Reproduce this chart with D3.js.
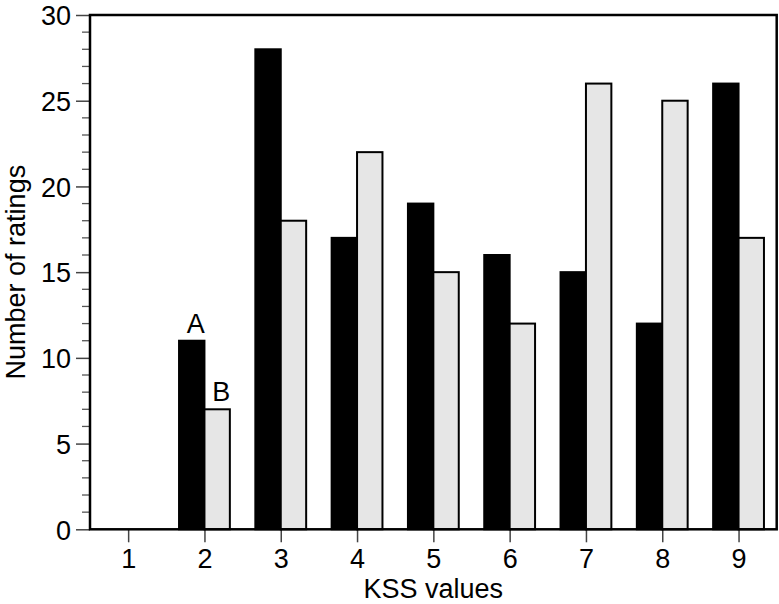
<!DOCTYPE html>
<html>
<head>
<meta charset="utf-8">
<script src="https://cdn.jsdelivr.net/npm/d3@7"></script>
<style>
  html, body { margin: 0; padding: 0; background: #fff; }
  svg { display: block; }
  text { font-family: "Liberation Sans", Arial, Helvetica, sans-serif; fill: #000; }
</style>
</head>
<body>
<script>
const categories = [1, 2, 3, 4, 5, 6, 7, 8, 9];
const seriesA = [0, 11, 28, 17, 19, 16, 15, 12, 26];
const seriesB = [0, 7, 18, 22, 15, 12, 26, 25, 17];
const yTicks = [0, 5, 10, 15, 20, 25, 30];
const yMinorTicks = d3.range(0, 31, 1);
const xLabel = "KSS values";
const yLabel = "Number of ratings";
const annotations = [{ series: "A", cat: 2 }, { series: "B", cat: 2 }];

const W = 779, H = 604;
const margin = { left: 90, top: 15, right: 2.3, bottom: 74.7 };
const iw = W - margin.left - margin.right;
const ih = H - margin.top - margin.bottom;

const svg = d3.select("body").append("svg").attr("width", W).attr("height", H);
const g = svg.append("g").attr("transform", `translate(${margin.left},${margin.top})`);

const x = d3.scaleLinear().domain([0.5, 9.5]).range([0, iw]);
const y = d3.scaleLinear().domain([0, 30]).range([ih, 0]);
const bw = x(1.333) - x(1);

// y minor ticks
g.append("g").selectAll("line").data(yMinorTicks.filter(d => d % 5 !== 0)).join("line")
  .attr("x1", -8).attr("x2", 0).attr("y1", d => y(d)).attr("y2", d => y(d))
  .attr("stroke", "#555").attr("stroke-width", 1.3);

// y axis major
const yAxis = d3.axisLeft(y).tickValues(yTicks).tickSize(14).tickPadding(5).tickFormat(d3.format("d"));
const ya = g.append("g").call(yAxis);
ya.select(".domain").remove();
ya.selectAll(".tick line").attr("stroke", "#444").attr("stroke-width", 1.5);
ya.selectAll(".tick text").style("font-size", "27px").attr("dy", "0.36em");

// x axis
const xAxis = d3.axisBottom(x).tickValues(categories).tickSize(13).tickPadding(7).tickFormat(d3.format("d"));
const xa = g.append("g").attr("transform", `translate(0,${ih})`).call(xAxis);
xa.select(".domain").remove();
xa.selectAll(".tick line").attr("stroke", "#444").attr("stroke-width", 1.5);
xa.selectAll(".tick text").style("font-size", "27px");

// bars
const dataA = categories.map((c, i) => ({ c, v: seriesA[i] })).filter(d => d.v > 0);
const dataB = categories.map((c, i) => ({ c, v: seriesB[i] })).filter(d => d.v > 0);

g.append("g").selectAll("rect").data(dataA).join("rect")
  .attr("x", d => x(d.c) - bw).attr("width", bw)
  .attr("y", d => y(d.v)).attr("height", d => y(0) - y(d.v))
  .attr("fill", "#000").attr("stroke", "#000").attr("stroke-width", 2);

g.append("g").selectAll("rect").data(dataB).join("rect")
  .attr("x", d => x(d.c)).attr("width", bw)
  .attr("y", d => y(d.v)).attr("height", d => y(0) - y(d.v))
  .attr("fill", "#e6e6e6").attr("stroke", "#000").attr("stroke-width", 2);

// frame
g.append("rect").attr("x", 0).attr("y", 0).attr("width", iw).attr("height", ih)
  .attr("fill", "none").attr("stroke", "#000").attr("stroke-width", 2.5);

// annotations
annotations.forEach(a => {
  const idx = categories.indexOf(a.cat);
  const v = a.series === "A" ? seriesA[idx] : seriesB[idx];
  const cx = a.series === "A" ? x(a.cat) - bw / 2 + 4 : x(a.cat) + bw / 2 + 4;
  g.append("text").attr("x", cx).attr("y", y(v) - 8)
    .attr("text-anchor", "middle").style("font-size", "27px").text(a.series);
});

// axis labels
svg.append("text").attr("x", margin.left + iw / 2).attr("y", 598)
  .attr("text-anchor", "middle").style("font-size", "27px").text(xLabel);
svg.append("text").attr("transform", `translate(25,${margin.top + ih / 2}) rotate(-90)`)
  .attr("text-anchor", "middle").style("font-size", "27px").text(yLabel);
</script>
</body>
</html>
